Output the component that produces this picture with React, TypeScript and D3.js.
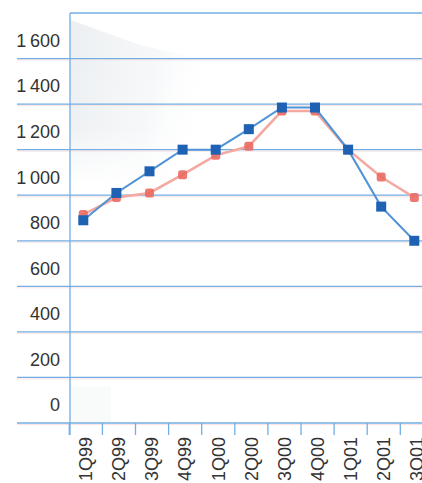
import React from 'react';
import * as d3 from 'd3';

const quarters = ['1Q99', '2Q99', '3Q99', '4Q99', '1Q00', '2Q00', '3Q00', '4Q00', '1Q01', '2Q01', '3Q01'];
const blueSeries = [890, 1010, 1105, 1200, 1200, 1290, 1385, 1385, 1200, 950, 800];
const redSeries = [915, 990, 1010, 1090, 1175, 1215, 1370, 1370, 1200, 1080, 990];
const yTicks = [0, 200, 400, 600, 800, 1000, 1200, 1400, 1600];
const yTickLabels = ['0', '200', '400', '600', '800', '1\u2009000', '1\u2009200', '1\u2009400', '1\u2009600'];

const BLUE_LINE = '#4f93d8';
const BLUE_MARK = '#1f62b3';
const RED_LINE = '#f4a89f';
const RED_MARK = '#ea6a62';
const GRID = '#72aee3';

export default function App() {
  const width = 422;
  const height = 483;
  const plotLeft = 70;
  const gridLeft = 17;

  const x = d3.scaleBand<string>().domain(quarters).range([69.3, 69.3 + 33.1 * quarters.length]);
  const y = d3.scaleLinear().domain([0, 1800]).range([423, 13]);
  const px = (q: string) => (x(q) as number) + 14;

  const line = d3.line<number>()
    .x((_, i) => px(quarters[i]))
    .y(d => y(d));

  return (
    <div style={{ position: 'absolute', left: 0, top: 0 }}>
      <svg width={width} height={height} style={{ display: 'block', background: '#fff' }}>
        <defs>
          <linearGradient id="shade" x1="0" y1="0" x2="1" y2="0.2">
            <stop offset="0" stopColor="#e8ecef" stopOpacity={0.85} />
            <stop offset="0.6" stopColor="#f0f3f5" stopOpacity={0.6} />
            <stop offset="1" stopColor="#ffffff" stopOpacity={0} />
          </linearGradient>
          <linearGradient id="fadeDown" x1="0" y1="0" x2="0" y2="1">
            <stop offset="0" stopColor="#fff" stopOpacity={0} />
            <stop offset="1" stopColor="#fff" stopOpacity={1} />
          </linearGradient>
        </defs>

        {/* faint background shading */}
        <path
          d={`M${plotLeft} ${y(1770)} L${plotLeft + 70} ${y(1660)} L${plotLeft + 150} ${y(1580)} L${plotLeft + 150} ${y(1050)} L${plotLeft} ${y(1050)} Z`}
          fill="url(#shade)"
        />
        <rect x={plotLeft} y={y(1300)} width={160} height={y(1040) - y(1300)} fill="url(#fadeDown)" />
        <rect x={plotLeft + 1} y={y(160)} width={40} height={y(0) - y(160)} fill="#f5f7f6" opacity={0.6} />

        {/* grid lines */}
        {yTicks.map(t => (
          <g key={t}>
            <line x1={gridLeft} x2={width} y1={y(t) + 1.5} y2={y(t) + 1.5} stroke="#fbe3e3" strokeWidth={1} />
            <line x1={gridLeft} x2={width} y1={y(t)} y2={y(t)} stroke={GRID} strokeWidth={1.3} />
          </g>
        ))}
        <line x1={plotLeft} x2={width} y1={y(1800)} y2={y(1800)} stroke={GRID} strokeWidth={1.3} />

        {/* y labels sit above their grid line */}
        {yTicks.map((t, i) => (
          <text
            key={t}
            x={60}
            y={y(t) - 18}
            dy="0.35em"
            textAnchor="end"
            fontFamily="'Liberation Sans', Arial, sans-serif"
            fontSize={18}
            fill="#333"
          >
            {yTickLabels[i]}
          </text>
        ))}

        {/* y axis */}
        <line x1={plotLeft} x2={plotLeft} y1={y(1800)} y2={435} stroke={GRID} strokeWidth={1.3} />

        {/* x ticks and labels */}
        {quarters.map(q => (
          <g key={q}>
            <line x1={x(q) as number} x2={x(q) as number} y1={y(0)} y2={435} stroke={GRID} strokeWidth={1.3} />
            <text
              x={(x(q) as number) + x.bandwidth() / 2}
              y={437}
              dy="0.35em"
              textAnchor="end"
              fontFamily="'Liberation Sans', Arial, sans-serif"
              fontSize={18}
              fill="#333"
              transform={`rotate(-90 ${(x(q) as number) + x.bandwidth() / 2},437)`}
            >
              {q}
            </text>
          </g>
        ))}

        {/* red series */}
        <path d={line(redSeries) ?? ''} fill="none" stroke={RED_LINE} strokeWidth={2.6} />
        {redSeries.map((v, i) => (
          <rect
            key={i}
            x={px(quarters[i]) - 4.5}
            y={y(v) - 4.5}
            width={9}
            height={9}
            rx={2.5}
            fill={RED_MARK}
            opacity={0.9}
          />
        ))}

        {/* blue series */}
        <path d={line(blueSeries) ?? ''} fill="none" stroke={BLUE_LINE} strokeWidth={2} />
        {blueSeries.map((v, i) => (
          <rect
            key={i}
            x={px(quarters[i]) - 5}
            y={y(v) - 5}
            width={10}
            height={10}
            fill={BLUE_MARK}
          />
        ))}
      </svg>
    </div>
  );
}
